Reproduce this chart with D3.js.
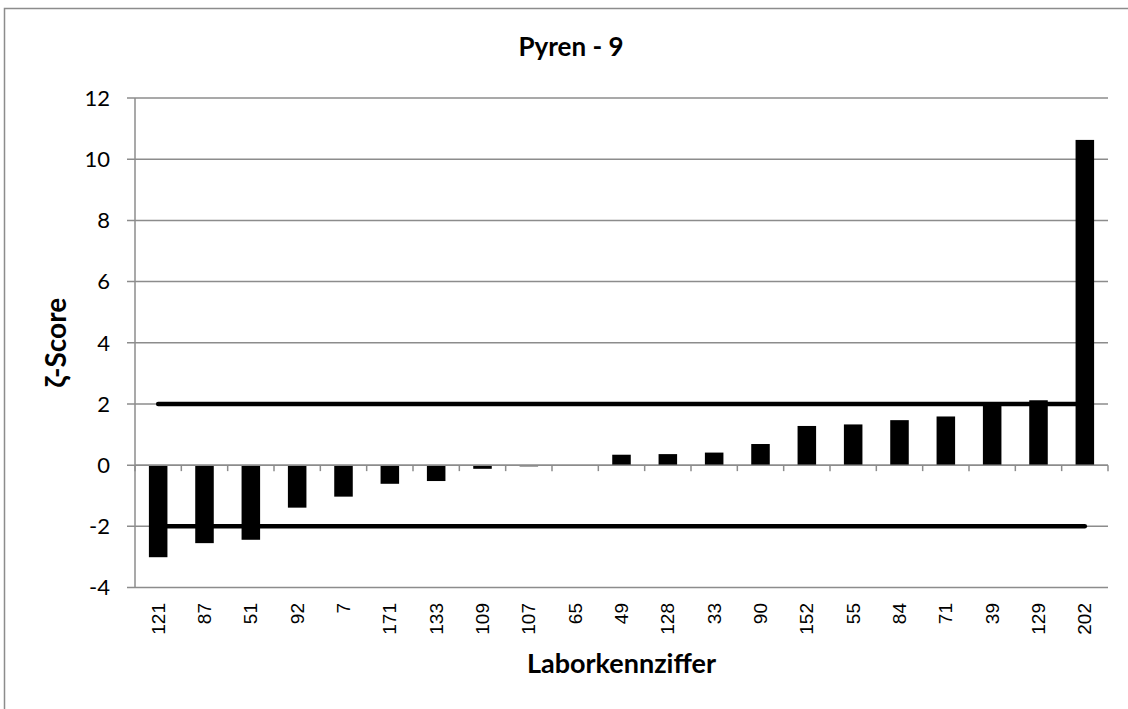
<!DOCTYPE html>
<html>
<head>
<meta charset="utf-8">
<script src="https://cdn.jsdelivr.net/npm/d3@7"></script>
<style>
  html, body { margin: 0; padding: 0; background: #fff; overflow: hidden; }
  svg { display: block; }
</style>
</head>
<body>
<svg id="chart" width="1128" height="709"></svg>
<script>
// Laboratory codes, ordered by score
const labs = ["121","87","51","92","7","171","133","109","107","65","49","128","33","90","152","55","84","71","39","129","202"];
// ζ-scores per laboratory
const zScores = [-3.01,-2.55,-2.44,-1.39,-1.03,-0.61,-0.52,-0.12,-0.04,0,0.34,0.36,0.41,0.69,1.28,1.33,1.47,1.59,1.97,2.12,10.63];
// Acceptance limits
const limits = [2, -2];
// Y axis ticks
const yTicks = [-4,-2,0,2,4,6,8,10,12];

const svg = d3.select("#chart");
const plot = { left: 135, right: 1108, top: 98, bottom: 587.5 };
const grid = "#8c8c8c";

// chart frame (continues past the right and bottom edge)
svg.append("path")
  .attr("d", "M4.5,720V8.5H1140")
  .attr("fill", "none").attr("stroke", grid).attr("stroke-width", 1.5);

const xc = d3.scaleBand().domain(labs).range([plot.left, plot.right]);
const y = d3.scaleLinear().domain([-4, 12]).range([plot.bottom, plot.top]);
const barW = xc.bandwidth() * 0.4;

// horizontal gridlines
svg.append("g").selectAll("line").data(yTicks).join("line")
  .attr("x1", plot.left - 8).attr("x2", plot.right)
  .attr("y1", d => y(d)).attr("y2", d => y(d))
  .attr("stroke", grid).attr("stroke-width", 1.5);

// vertical axis line
svg.append("line")
  .attr("x1", plot.left).attr("x2", plot.left)
  .attr("y1", plot.top).attr("y2", plot.bottom)
  .attr("stroke", grid).attr("stroke-width", 1.5);

// y tick labels
svg.append("g").selectAll("text").data(yTicks).join("text")
  .attr("x", 110).attr("y", d => y(d))
  .attr("dy", "0.36em")
  .attr("text-anchor", "end")
  .attr("font-family", "Lato, 'Open Sans', sans-serif")
  .attr("font-size", 22)
  .attr("fill", "#000")
  .text(d => d);

// bars
svg.append("g").selectAll("rect").data(zScores).join("rect")
  .attr("x", (d, i) => xc(labs[i]) + xc.bandwidth() / 2 - barW / 2)
  .attr("width", barW)
  .attr("y", d => y(Math.max(0, d)))
  .attr("height", d => Math.abs(y(d) - y(0)))
  .attr("fill", "#000");

// category axis at zero with downward ticks
svg.append("line")
  .attr("x1", plot.left).attr("x2", plot.right)
  .attr("y1", y(0)).attr("y2", y(0))
  .attr("stroke", grid).attr("stroke-width", 1.5);
const bounds = labs.map(l => xc(l)).concat([plot.right]);
svg.append("g").selectAll("line").data(bounds).join("line")
  .attr("x1", d => d).attr("x2", d => d)
  .attr("y1", y(0)).attr("y2", y(0) + 6)
  .attr("stroke", grid).attr("stroke-width", 1.5);

// limit lines ±2
const first = xc(labs[0]) + xc.bandwidth() / 2;
const last = xc(labs[labs.length - 1]) + xc.bandwidth() / 2;
svg.append("g").selectAll("line").data(limits).join("line")
  .attr("x1", first).attr("x2", last)
  .attr("y1", d => y(d)).attr("y2", d => y(d))
  .attr("stroke", "#000").attr("stroke-width", 4.5)
  .attr("stroke-linecap", "round");

// x tick labels (rotated)
svg.append("g").selectAll("text").data(labs).join("text")
  .attr("transform", d => `translate(${xc(d) + xc.bandwidth() / 2},603) rotate(-90)`)
  .attr("dy", "0.35em")
  .attr("text-anchor", "end")
  .attr("font-family", "'Liberation Sans', Arial, sans-serif")
  .attr("font-size", 19)
  .attr("fill", "#000")
  .text(d => d);

// title
svg.append("text")
  .attr("x", 571).attr("y", 56)
  .attr("text-anchor", "middle")
  .attr("font-family", "Lato, 'Open Sans', sans-serif")
  .attr("font-weight", "bold")
  .attr("font-size", 26)
  .text("Pyren - 9");

// axis titles
svg.append("text")
  .attr("x", (plot.left + plot.right) / 2).attr("y", 673)
  .attr("text-anchor", "middle")
  .attr("font-family", "Lato, 'Open Sans', sans-serif")
  .attr("font-weight", "bold")
  .attr("font-size", 27)
  .text("Laborkennziffer");

svg.append("text")
  .attr("transform", `translate(66,${(plot.top + plot.bottom) / 2}) rotate(-90)`)
  .attr("text-anchor", "middle")
  .attr("font-family", "Lato, 'Open Sans', sans-serif")
  .attr("font-weight", "bold")
  .attr("font-size", 28)
  .text("ζ-Score");
</script>
</body>
</html>
